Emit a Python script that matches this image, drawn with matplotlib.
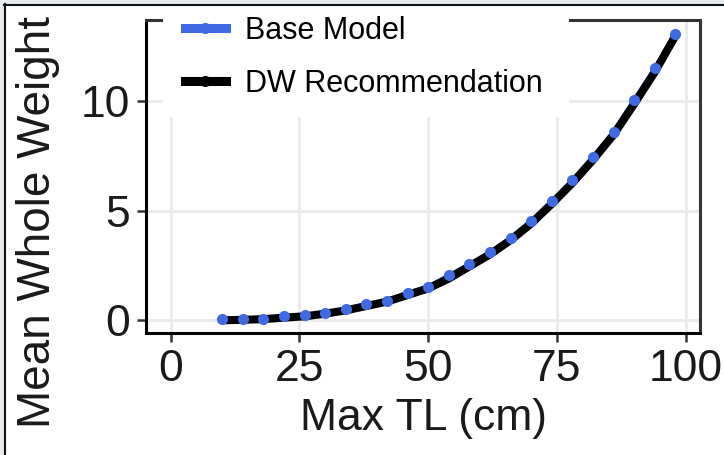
import matplotlib
matplotlib.use("Agg")
import matplotlib.pyplot as plt
from matplotlib.lines import Line2D
from matplotlib.patches import Rectangle

plt.rcParams['font.family'] = ['Liberation Sans', 'DejaVu Sans']

# values
max_tl = [10, 14, 18, 22, 26, 30, 34, 38, 42, 46, 50, 54,
          58, 62, 66, 70, 74, 78, 82, 86, 90, 94, 98]
base_model = [0.05, 0.06, 0.08, 0.2, 0.22, 0.35, 0.5, 0.74, 0.88, 1.26, 1.53, 2.05,
              2.56, 3.1, 3.76, 4.54, 5.43, 6.39, 7.45, 8.59, 10.04, 11.48, 13.06]
dw_rec = [0.0, 0.02, 0.05, 0.12, 0.18, 0.3, 0.45, 0.65, 0.85, 1.15, 1.45, 1.9,
          2.45, 3.0, 3.65, 4.4, 5.3, 6.25, 7.3, 8.45, 9.85, 11.3, 12.95]
x_ticks = [0, 25, 50, 75, 100]
y_ticks = [0, 5, 10]
series_labels = ["Base Model", "DW Recommendation"]

BLUE = "#4169E1"
W, H = 724, 455

fig = plt.figure(figsize=(W / 100, H / 100), dpi=100)
ax = fig.add_axes([146 / W, (H - 333) / H, (700 - 146) / W, (333 - 20) / H])

# base model line sits underneath the black one
ax.plot(max_tl, base_model, color=BLUE, lw=3, solid_capstyle='butt', zorder=2)
ax.plot(max_tl, dw_rec, color='black', lw=5.8, solid_capstyle='butt', zorder=3)
ax.plot(max_tl, base_model, 'o', color=BLUE, ms=8, mew=0, zorder=4)

ax.set_xlim(-4.8, 102.8)
ax.set_ylim(-0.58, 13.68)
ax.set_xticks(x_ticks)
ax.set_yticks(y_ticks)
ax.grid(True, color='#EBEBEB', lw=2.2)
ax.set_axisbelow(True)

for side in ['top', 'right']:
    ax.spines[side].set_color('#333333')
    ax.spines[side].set_linewidth(2.2)
for side in ['left', 'bottom']:
    ax.spines[side].set_color('black')
    ax.spines[side].set_linewidth(2.2)

ax.tick_params(length=6.5, width=1.8, color='#333333', labelsize=32,
               labelcolor='#1a1a1a')
ax.tick_params(axis='x', pad=5)
ax.tick_params(axis='y', pad=5)

ax.set_xlabel("Max TL (cm)", fontsize=32, color='#1a1a1a', labelpad=6)
ax.set_ylabel("Mean Whole Weight", fontsize=33, color='#1a1a1a')
ax.yaxis.label.set_va('center')
ax.yaxis.set_label_coords((38 - 146) / 554, (333 - 222) / 313)

# white legend background hides part of the top border
fig.add_artist(Rectangle((163 / W, (H - 117) / H), 406 / W, 117 / H,
                         transform=fig.transFigure, facecolor='white',
                         edgecolor='none', zorder=1))

handles = [Line2D([], [], color=BLUE, lw=6.5, marker='o', ms=8, mew=0),
           Line2D([], [], color='black', lw=6.5, marker='o', ms=8, mew=0)]
fig.legend(handles, series_labels, loc='upper left',
           bbox_to_anchor=(185 / W, 1 - 16 / H), frameon=False, fontsize=22,
           handlelength=1.34, handletextpad=0.62, labelspacing=0.74,
           borderpad=0, borderaxespad=0, numpoints=1)

# screenshot frame at top and left
fig.add_artist(Rectangle((0, 1 - 4 / H), 1, 4 / H, transform=fig.transFigure,
                         facecolor='#E8EBEE', edgecolor='none', zorder=6))
fig.add_artist(Rectangle((0, 0), 4 / W, 1, transform=fig.transFigure,
                         facecolor='#E8EBEE', edgecolor='none', zorder=6))
fig.add_artist(Line2D([4 / W, 1], [1 - 5 / H, 1 - 5 / H], transform=fig.transFigure,
                      color='#111111', lw=1.5, zorder=7))
fig.add_artist(Line2D([5 / W, 5 / W], [0, 1 - 4 / H], transform=fig.transFigure,
                      color='#111111', lw=1.5, zorder=7))

fig.savefig("out.png", dpi=100)
